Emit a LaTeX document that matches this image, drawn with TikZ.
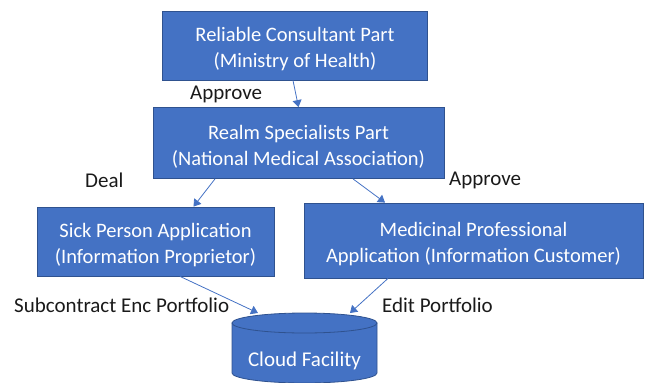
\documentclass[tikz,border=0pt]{standalone}
\usepackage{fontspec}
\setmainfont{Carlito}
\usetikzlibrary{arrows.meta}
\definecolor{boxblue}{HTML}{4472C4}
\definecolor{boxedge}{HTML}{2F528F}
\definecolor{labeltext}{HTML}{1A1A1A}
% extra room above the first line, so the text sits a little low in its box
\newcommand{\topgap}{\rule{0pt}{21pt}}
\begin{document}
\begin{tikzpicture}[x=1pt,y=-1pt,
  blockbox/.style={rectangle, fill=boxblue, draw=boxedge, line width=0.8pt,
    text=white, align=center, font=\fontsize{20.5}{26}\selectfont, inner sep=0pt},
  flow/.style={draw=boxblue, line width=0.8pt, -{Triangle[width=9pt,length=7pt]}},
  tag/.style={text=labeltext, font=\fontsize{21}{24}\selectfont, inner sep=0pt}]
\useasboundingbox (0,0) rectangle (646,383);

% main blocks
\node[blockbox, minimum width=265pt, minimum height=69pt] (rcp) at (295,45.5)
  {\topgap Reliable Consultant Part\\(Ministry of Health)};
\node[blockbox, minimum width=291pt, minimum height=71pt] (rsp) at (298.5,143)
  {\topgap Realm Specialists Part\\(National Medical Association)};
\node[blockbox, minimum width=237pt, minimum height=69pt] (spa) at (155.5,241.5)
  {\topgap Sick Person Application\\(Information Proprietor)};
\node[blockbox, minimum width=339pt, minimum height=75pt] (mpa) at (473.5,240.5)
  {\topgap Medicinal Professional\\Application (Information Customer)};

% cloud storage cylinder
\filldraw[fill=boxblue, draw=boxedge, line width=0.8pt]
  (232,323) -- (232,373) arc [start angle=180, end angle=0, x radius=72.5, y radius=10] -- (377,323) -- cycle;
\filldraw[fill=boxblue, draw=boxedge, line width=0.8pt] (304.5,323) ellipse [x radius=72.5, y radius=10];
\node[text=white, font=\fontsize{21}{24}\selectfont] (cloud) at (304.5,361) {Cloud Facility};
\coordinate (cloudL) at (258,313);
\coordinate (cloudR) at (350,313);

% connectors
\draw[flow] ([xshift=-2pt]rcp.south) -- (rsp.north);
\draw[flow] ([xshift=-83.5pt]rsp.south) -- ([xshift=38pt]spa.north);
\draw[flow] ([xshift=54.5pt]rsp.south) -- ([xshift=-88.5pt]mpa.north);
\draw[flow] ([xshift=24.5pt]spa.south) -- (cloudL);
\draw[flow] ([xshift=-85.5pt]mpa.south) -- (cloudR);

% connector labels
\node[tag, anchor=west] (l1) at (190,94) {Approve};
\node[tag, anchor=west] (l2) at (85,180) {Deal};
\node[tag, anchor=west] (l3) at (449,180) {Approve};
\node[tag, anchor=west] (l4) at (14,305) {Subcontract Enc Portfolio};
\node[tag, anchor=west] (l5) at (382,305) {Edit Portfolio};
\end{tikzpicture}
\end{document}
